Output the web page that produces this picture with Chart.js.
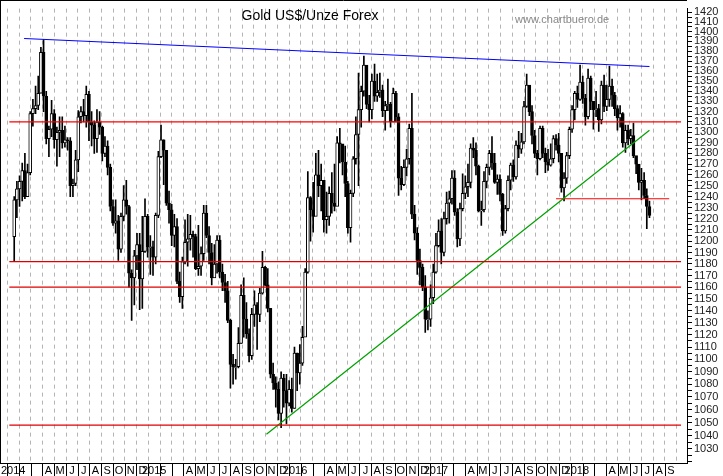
<!DOCTYPE html>
<html><head><meta charset="utf-8">
<script src="https://cdn.jsdelivr.net/npm/chart.js@4.4.0/dist/chart.umd.min.js"></script>
<style>html,body{margin:0;padding:0;background:#fff}#c{display:block}</style>
</head><body>
<canvas id="c" width="723" height="476"></canvas>
<script>
// Weekly candles, week 0 = 30 Dec 2013 ... week 238 = 23 Jul 2018
const firstOpen = 1204;
const closes = [1237,1247,1254,1264,1240,1262,1318,1323,1326,1338,1379,1335,1294,1303,1318,1293,1300,1302,1290,1293,1292,1250,1252,1274,1315,1320,1316,1337,1310,1307,1294,1310,1305,1280,1287,1267,1231,1216,1218,1193,1222,1237,1231,1172,1168,1187,1197,1167,1191,1222,1195,1195,1186,
1223,1277,1293,1283,1234,1228,1205,1213,1165,1152,1182,1199,1202,1206,1204,1176,1178,1189,1225,1205,1190,1168,1180,1201,1173,1164,1157,1132,1096,1094,1094,1113,1153,1133,1121,1103,1137,1145,1137,1155,1177,1162,1142,1088,1081,1076,1057,1085,1075,1065,1076,1061,
1105,1089,1097,1118,1173,1239,1228,1222,1260,1250,1255,1219,1222,1243,1234,1231,1290,1289,1272,1252,1212,1243,1275,1298,1322,1340,1366,1327,1322,1350,1335,1339,1341,1321,1326,1327,1310,1338,1315,1257,1251,1267,1275,1304,1224,1207,1183,1177,1160,1133,1133,1151,
1173,1196,1209,1190,1220,1234,1238,1257,1226,1202,1229,1243,1249,1253,1285,1283,1268,1227,1228,1254,1267,1280,1271,1253,1256,1242,1209,1229,1255,1269,1258,1288,1284,1291,1325,1346,1320,1297,1280,1275,1304,1280,1272,1269,1275,1294,1288,1280,1248,1257,1278,1303,
1322,1338,1332,1349,1333,1315,1353,1330,1322,1323,1312,1346,1325,1332,1345,1336,1323,1314,1318,1290,1302,1294,1297,1278,1270,1253,1255,1241,1231,1223];
const highs = [1240,1254,1259,1271,1280,1270,1320,1332,1345,1355,1384,1392,1340,1306,1331,1322,1305,1315,1315,1306,1295,1295,1256,1283,1321,1325,1332,1345,1340,1320,1311,1322,1320,1306,1296,1292,1270,1237,1237,1223,1225,1250,1255,1232,1175,1192,1207,1207,1222,1238,1224,1205,1200,
1225,1282,1307,1293,1275,1245,1233,1224,1220,1173,1186,1219,1224,1223,1209,1206,1214,1195,1232,1232,1213,1198,1197,1205,1205,1180,1171,1165,1133,1104,1100,1126,1162,1168,1147,1125,1142,1157,1147,1159,1191,1178,1176,1141,1097,1086,1082,1090,1088,1088,1083,1085,
1110,1105,1112,1127,1176,1263,1240,1253,1280,1283,1270,1252,1244,1249,1262,1270,1296,1304,1279,1287,1254,1246,1277,1315,1358,1345,1375,1360,1336,1357,1367,1357,1358,1346,1330,1352,1329,1343,1340,1318,1268,1274,1284,1308,1338,1232,1212,1193,1180,1170,1140,1162,
1180,1207,1219,1220,1226,1244,1245,1264,1264,1229,1234,1261,1259,1270,1289,1295,1290,1269,1236,1263,1270,1283,1296,1280,1260,1260,1243,1232,1259,1271,1274,1292,1301,1299,1330,1357,1340,1326,1302,1283,1306,1306,1285,1284,1289,1297,1298,1299,1278,1262,1281,1305,
1326,1340,1345,1366,1355,1337,1362,1355,1325,1340,1327,1350,1356,1346,1365,1352,1339,1326,1326,1319,1307,1307,1303,1309,1277,1268,1266,1262,1247,1236];
const lows = [1182,1221,1231,1236,1238,1241,1260,1306,1318,1322,1338,1320,1289,1277,1296,1285,1268,1277,1285,1286,1283,1240,1240,1250,1263,1309,1310,1305,1292,1287,1280,1281,1298,1273,1277,1260,1227,1214,1207,1183,1190,1218,1224,1160,1132,1145,1175,1141,1142,1190,1186,1171,1170,
1180,1221,1276,1251,1232,1216,1196,1195,1163,1147,1142,1180,1178,1192,1186,1175,1170,1170,1183,1203,1180,1162,1170,1172,1168,1157,1147,1130,1077,1080,1084,1093,1113,1118,1117,1098,1100,1127,1108,1131,1154,1161,1139,1085,1076,1062,1052,1046,1062,1049,1063,1058,
1061,1075,1080,1095,1123,1172,1200,1208,1229,1240,1227,1208,1207,1214,1225,1227,1235,1271,1260,1240,1207,1199,1240,1270,1250,1305,1335,1323,1310,1313,1330,1330,1334,1315,1302,1321,1305,1310,1310,1241,1246,1250,1259,1270,1220,1201,1171,1162,1157,1122,1124,1127,
1146,1172,1195,1180,1187,1215,1216,1233,1223,1195,1196,1227,1238,1240,1248,1276,1260,1226,1214,1226,1248,1260,1265,1252,1242,1236,1205,1207,1227,1246,1254,1256,1276,1280,1289,1324,1316,1289,1276,1260,1274,1276,1262,1264,1268,1271,1283,1272,1244,1236,1252,1275,
1300,1312,1324,1331,1328,1307,1313,1322,1303,1315,1301,1308,1320,1321,1325,1325,1316,1302,1305,1286,1281,1288,1289,1276,1261,1246,1237,1238,1211,1221];
// month grid labels (Jan 2014 ... Sep 2018)
const monthLetters = ['', '', '', 'A','M','J','J','A','S','O','N','D'];
const years = ['2014','2015','2016','2017','2018'];
// trend / support lines  [week, price]
const blueLine = [[3.7,1393],[238,1364.6]];
const greenLine = [[94.5,1041],[238,1302]];
const redShort = [[203,1238],[245.4,1238]];
const redLevels = [1310];
const supportLevels = [1182,1160,1048];

const X0 = 5, PXW = 2.73;          // px of week 0 and px per week
const monthPx = m => 4 + 12.01*m;
const monthTicks = [], monthLabels = [];
for (let m=0; m<=56; m++){
  monthTicks.push((monthPx(m)-X0)/PXW);
  const mi = m%12;
  monthLabels.push(mi===0 ? years[m/12] : monthLetters[mi]);
}

const wick=[], body=[], bodyCol=[];
closes.forEach((c,i)=>{
  const o = i===0 ? firstOpen : closes[i-1];
  wick.push({x:i, y:[lows[i],highs[i]]});
  body.push({x:i, y:[Math.min(o,c)===Math.max(o,c)?o-0.5:Math.min(o,c), Math.max(o,c)]});
  bodyCol.push(c>=o ? '#ffffff' : '#000000');
});
const xmin = -X0/PXW, xmax = (687-X0)/PXW;
const hline = (v,col)=>({type:'line',data:[{x:xmin,y:v},{x:xmax,y:v}],borderColor:col,borderWidth:1.3,pointRadius:0,order:0});
const seg = (pts,col)=>({type:'line',data:pts.map(p=>({x:p[0],y:p[1]})),borderColor:col,borderWidth:1.2,pointRadius:0,order:0});

const deco = {
  id:'deco',
  afterDraw(ch){
    const g=ch.ctx, a=ch.chartArea, xs=ch.scales.x;
    g.save();
    g.strokeStyle='#000'; g.lineWidth=1;
    g.beginPath(); g.moveTo(0,0.5); g.lineTo(a.right,0.5); g.moveTo(0.5,0); g.lineTo(0.5,a.bottom); g.stroke();
    g.beginPath(); g.moveTo(0,a.bottom+0.5); g.lineTo(a.right,a.bottom+0.5);
    monthTicks.forEach(v=>{const p=Math.round(xs.getPixelForValue(v))-6+0.5; if(p>0&&p<a.right){g.moveTo(p,a.bottom);g.lineTo(p,476);}});
    g.stroke();
    g.fillStyle='#000'; g.font='14px "Liberation Sans", Arial, sans-serif'; g.textAlign='center'; g.textBaseline='middle';
    g.fillText('Gold US$/Unze Forex',310,16);
    g.fillStyle='#888'; g.font='11px "Liberation Sans", Arial, sans-serif'; g.textAlign='left';
    g.fillText('www.chartbuero.de',515,20);
    g.restore();
  }
};

new Chart(document.getElementById('c'),{
  type:'bar',
  data:{datasets:[
    hline(redLevels[0],'#ff0000'),
    hline(supportLevels[0],'#e00000'),hline(supportLevels[1],'#e00000'),hline(supportLevels[2],'#e00000'),
    seg(blueLine,'#0000ff'), seg(greenLine,'#00a000'), seg(redShort,'#ff0000'),
    {type:'bar',data:wick,backgroundColor:'#000',barThickness:1,grouped:false,order:2},
    {type:'bar',data:body,backgroundColor:bodyCol,borderColor:'#000',borderWidth:1,borderSkipped:false,barThickness:3,grouped:false,order:1}
  ]},
  options:{
    responsive:false,animation:false,
    layout:{padding:0},
    plugins:{legend:{display:false},tooltip:{enabled:false}},
    scales:{
      x:{type:'linear',min:xmin,max:xmax,bounds:'data',
        afterBuildTicks:s=>{s.ticks=monthTicks.map(v=>({value:v}));},
        afterFit:s=>{s.height=13;},
        grid:{color:'#b4b4b4',lineWidth:1,drawTicks:false,tickLength:0},
        border:{display:true,color:'rgba(0,0,0,0)',dash:[4,4]},
        ticks:{autoSkip:false,maxRotation:0,padding:1,color:'#000',font:{size:11,family:'"Liberation Sans", Arial, sans-serif'},
          callback:(v,i)=>monthLabels[i]}
      },
      y:{type:'logarithmic',position:'right',min:1019.2,max:1424,bounds:'data',
        afterBuildTicks:s=>{const t=[];for(let v=1020;v<=1420;v+=5)t.push({value:v});s.ticks=t;},
        afterFit:s=>{s.width=36;},
        grid:{drawOnChartArea:false,color:'#000',tickLength:5},
        border:{color:'#000'},
        ticks:{autoSkip:false,padding:2,color:'#222',font:{size:11,family:'"Liberation Sans", Arial, sans-serif'},
          callback:v=>(v%10===0 && v>1020?String(v):'')}
      }
    }
  },
  plugins:[deco]
});
</script>
</body></html>
